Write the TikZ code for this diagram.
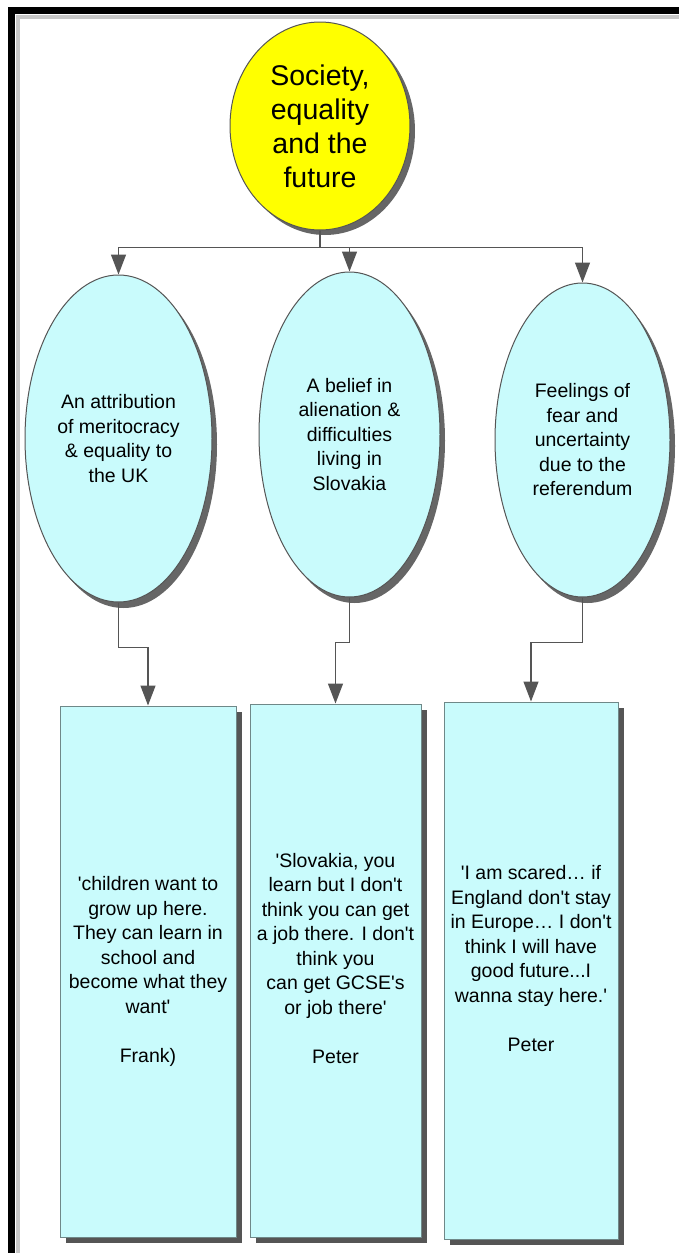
\documentclass[tikz,border=0pt]{standalone}
\usepackage{fontspec}
\setmainfont{Liberation Sans}
\usetikzlibrary{shapes.geometric,arrows.meta,shadows,calc}
\definecolor{lcyan}{HTML}{C9FBFC}
\definecolor{topyellow}{HTML}{FFFF00}
\definecolor{edgegray}{HTML}{555555}
\definecolor{boxedge}{HTML}{6F8888}
\definecolor{shadowgray}{HTML}{555555}
\newcommand{\sq}{\textquotesingle}
\begin{document}
\begin{tikzpicture}[x=1pt,y=-1pt,
  rootnode/.style={ellipse, draw=edgegray, line width=1pt, fill=topyellow, inner sep=0pt,
    align=center, font=\fontsize{28.5}{34}\selectfont,
    drop shadow={shadow xshift=5pt, shadow yshift=-5pt, fill=black, opacity=0.6}},
  themenode/.style={ellipse, draw=edgegray, line width=1pt, fill=lcyan, inner sep=0pt,
    align=center, font=\fontsize{19.5}{24.5}\selectfont,
    drop shadow={shadow xshift=5pt, shadow yshift=-6pt, fill=black, opacity=0.6}},
  quotebox/.style={rectangle, draw=boxedge, line width=1pt, fill=lcyan, inner sep=0pt,
    align=center, font=\fontsize{19.5}{24.5}\selectfont,
    drop shadow={shadow xshift=6pt, shadow yshift=-6pt, fill=shadowgray, opacity=1}},
  arr/.style={draw=edgegray, line width=1.3pt, -{Triangle[length=20pt,width=15pt]}}
]
\useasboundingbox (0,0) rectangle (679,1253);
\fill[white] (0,0) rectangle (679,1253);
% frame
\draw[black!22, line width=4pt] (18,1300) -- (18,17) -- (720,17);
\draw[black, line width=7pt] (11.5,1300) -- (11.5,10.5) -- (720,10.5);

% nodes
\node[rootnode, minimum width=180pt, minimum height=208pt] (root) at (320,126)
  {Society,\\equality\\and the\\future};
\node[themenode, minimum width=187pt, minimum height=327pt] (e1) at (118.5,438.5)
  {An attribution\\of meritocracy\\\& equality to\\the UK};
\node[themenode, minimum width=181pt, minimum height=325pt] (e2) at (349.5,434.5)
  {A belief in\\alienation \&\\difficulties\\living in\\Slovakia};
\node[themenode, minimum width=175pt, minimum height=314pt] (e3) at (582.5,440)
  {Feelings of\\fear and\\uncertainty\\due to the\\referendum};

\node[quotebox, minimum width=176pt, minimum height=531pt] (b1) at (148,971.5)
  {\sq children want to\\grow up here.\\They can learn in\\school and\\become what they\\want\sq\\[24.5pt]Frank)};
\node[quotebox, minimum width=171pt, minimum height=533pt] (b2) at (335.5,970.5)
  {\sq Slovakia, you\\learn but I don\sq t\\think you can get\\a job there. I don\sq t\\think you\\can get GCSE\sq s\\or job there\sq\\[24.5pt]Peter\\\mbox{}};
\node[quotebox, minimum width=174pt, minimum height=537pt] (b3) at (531,970.5)
  {\sq I am scared\ldots{} if\\England don\sq t stay\\in Europe\ldots{} I don\sq t\\think I will have\\good future...I\\wanna stay here.\sq\\[24.5pt]Peter\\\mbox{}};

% connectors
\draw[arr] (root.south) -- ++(0,17) -| (e1.north);
\draw[arr] (root.south) -- ++(0,17) -| (e2.north);
\draw[arr] (root.south) -- ++(0,17) -| (e3.north);

\draw[arr] (e1.south) -- ++(0,45) -| (b1.north);
\draw[arr] (e2.south) -- ++(0,45) -| (b2.north);
\draw[arr] (e3.south) -- ++(0,45) -| (b3.north);
\end{tikzpicture}
\end{document}
